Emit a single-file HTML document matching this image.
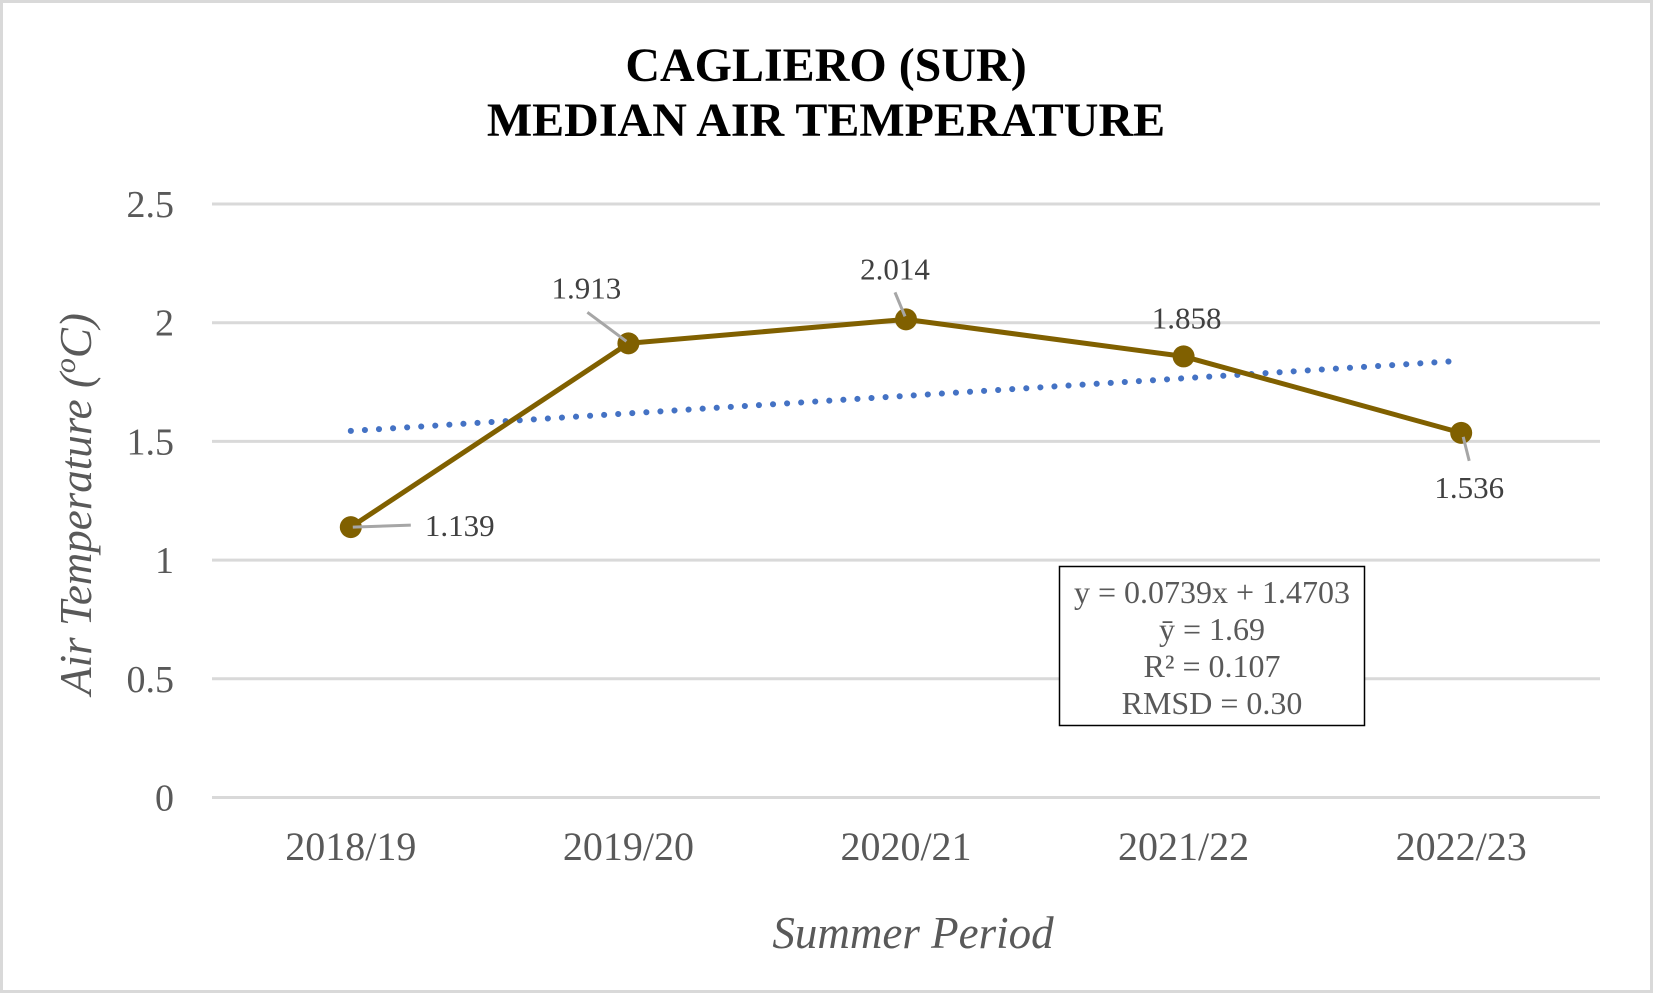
<!DOCTYPE html>
<html><head><meta charset="utf-8"><style>
html,body{margin:0;padding:0;background:#fff}
svg{display:block;font-family:"Liberation Serif",serif}
</style></head><body>
<svg width="1653" height="993" viewBox="0 0 1653 993">
<rect x="1.5" y="1.5" width="1650" height="990" fill="#fff" stroke="#d9d9d9" stroke-width="3"/>
<text x="826" y="81" text-anchor="middle" font-size="48" font-weight="bold" fill="#000">CAGLIERO (SUR)</text>
<text x="826" y="136" text-anchor="middle" font-size="48" font-weight="bold" fill="#000">MEDIAN AIR TEMPERATURE</text>
<g id="grid"></g><g id="yt"></g><g id="xt"></g><g id="trend"></g><g id="series"></g><g id="labels"></g>
<text transform="translate(91,504) rotate(-90)" text-anchor="middle" font-size="45" font-style="italic" fill="#595959">Air Temperature (<tspan baseline-shift="super" font-size="30">o</tspan>C)</text>
<text x="913" y="948" text-anchor="middle" font-size="45" font-style="italic" fill="#595959">Summer Period</text>
<g>
<rect x="1059.5" y="566.5" width="305" height="159" fill="#fff" stroke="#000" stroke-width="1.5"/>
<text x="1212" y="603" text-anchor="middle" font-size="32" fill="#595959">y = 0.0739x + 1.4703</text>
<text x="1212" y="640" text-anchor="middle" font-size="32" fill="#595959">ȳ = 1.69</text>
<text x="1212" y="677" text-anchor="middle" font-size="32" fill="#595959">R² = 0.107</text>
<text x="1212" y="714" text-anchor="middle" font-size="32" fill="#595959">RMSD = 0.30</text>
</g>
</svg>
<script>
const categories=["2018/19","2019/20","2020/21","2021/22","2022/23"];
const values=[1.139,1.913,2.014,1.858,1.536];
const yTicks=[0,0.5,1,1.5,2,2.5];
const yTickLabels=["0","0.5","1","1.5","2","2.5"];
const NS="http://www.w3.org/2000/svg";
const X0=212,X1=1600,Y0=797.5,Y1=204,YMAX=2.5;
const bw=(X1-X0)/categories.length;
const xs=i=>X0+(i+0.5)*bw;
const ys=v=>Y0-(v/YMAX)*(Y0-Y1);
function mk(t,a,p){const e=document.createElementNS(NS,t);for(const k in a)e.setAttribute(k,a[k]);p.appendChild(e);return e;}
const grid=document.getElementById('grid'),yt=document.getElementById('yt'),xt=document.getElementById('xt');
yTicks.forEach((v,i)=>{
 const l=mk('line',{x1:X0,x2:X1,y1:ys(v),y2:ys(v),stroke:'#d9d9d9','stroke-width':3},grid);
 
 
 const t=mk('text',{x:174,y:ys(v)+13,'text-anchor':'end','font-size':38,fill:'#595959'},yt);
 t.textContent=yTickLabels[i];
 
 
});
categories.forEach((c,i)=>{
 const t=mk('text',{x:xs(i),y:860,'text-anchor':'middle','font-size':40,fill:'#595959'},xt);
 t.textContent=c;
 
 
});
const n=values.length;let sx=0,sy=0,sxy=0,sxx=0;
values.forEach((v,i)=>{const x=i+1;sx+=x;sy+=v;sxy+=x*v;sxx+=x*x;});
const m=(n*sxy-sx*sy)/(n*sxx-sx*sx),b=(sy-m*sx)/n;
const tr=mk('line',{x1:xs(0),y1:ys(m*1+b),x2:xs(n-1),y2:ys(m*n+b),stroke:'#4472C4','stroke-width':6,'stroke-linecap':'round','stroke-dasharray':'0.1 14'},document.getElementById('trend'));


const sg=document.getElementById('series');
const pl=mk('polyline',{points:values.map((v,i)=>xs(i)+','+ys(v)).join(' '),fill:'none',stroke:'#806000','stroke-width':5,'stroke-linejoin':'round'},sg);


const offs=[[109,-2,2,0,60,-2],[-42,-56,-2,-2,-41,-31],[-11,-51,-1,-3,-11,-27],[3,-39,0,0,0,0],[8,54,2,4,8,28]];
const lg=document.getElementById('labels');
values.forEach((v,i)=>{
 const cx=xs(i),cy=ys(v),o=offs[i];
 if(o[4]||o[5]){const ld=mk('line',{x1:cx+o[2],y1:cy+o[3],x2:cx+o[4],y2:cy+o[5],stroke:'#a6a6a6','stroke-width':3},lg);
 
 }
 const c=mk('circle',{cx:cx,cy:cy,r:11,fill:'#806000'},sg);
 
 
 const t=mk('text',{x:cx+o[0],y:cy+o[1]+11,'text-anchor':'middle','font-size':31,fill:'#404040'},lg);
 t.textContent=v.toFixed(3);
 
 
});
</script>
</body></html>
